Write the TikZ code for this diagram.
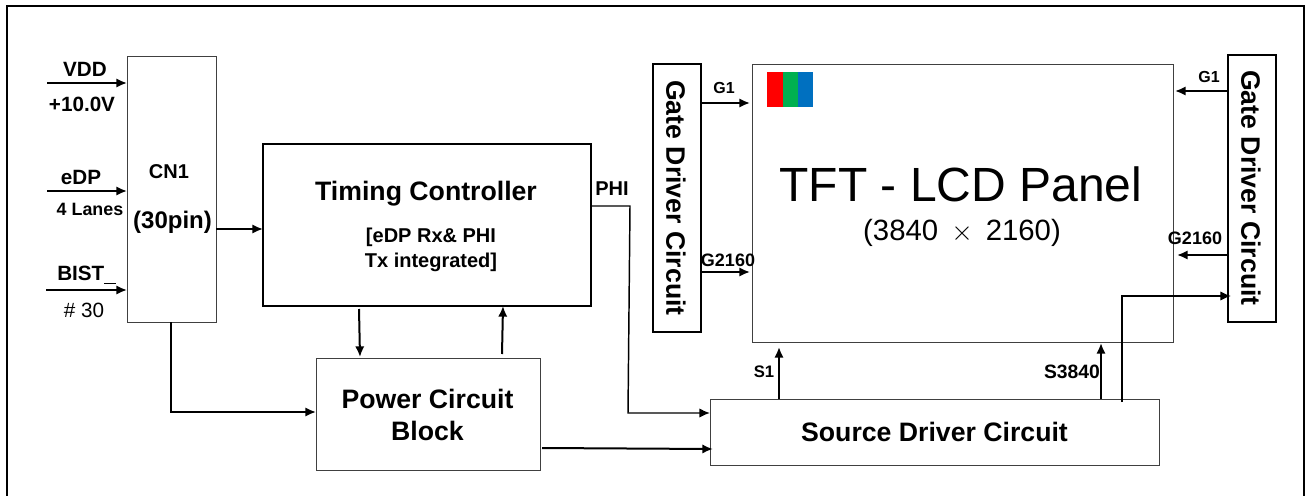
\documentclass[tikz,border=0pt]{standalone}
\usepackage{fontspec}
\setmainfont{Liberation Sans}
\usepackage{tikz}
\usetikzlibrary{arrows.meta,positioning}
\definecolor{pixgreen}{HTML}{00B050}
\definecolor{pixblue}{HTML}{0070C0}
\tikzset{
	x=0.75pt, y=-0.75pt,
	block/.style={draw=black!75, line width=0.75pt, inner sep=0pt, outer sep=0pt, anchor=north west},
	heavy/.style={draw=black, line width=1.5pt},
	sig/.style={line width=1.5pt, -{Latex[length=8pt,width=7pt]}},
	thinsig/.style={line width=1.1pt, -{Latex[length=8pt,width=7pt]}},
	txt/.style={inner sep=0pt, font=\fontsize{#1}{#1}\selectfont},
	lbl/.style={inner sep=0pt, font=\bfseries\fontsize{#1}{#1}\selectfont},
}
\begin{document}
\begin{tikzpicture}
	\useasboundingbox (0,0) rectangle (1307,496);
	\coordinate (frameBL) at (7,496);
	\coordinate (frameTL) at (7,6);
	\coordinate (frameTR) at (1304,6);
	\coordinate (frameBR) at (1304,496);
	\draw[line width=1.5pt] (frameBL) -- (frameTL) -- (frameTR) -- (frameBR);
	
	\node[block, minimum width=89*0.75pt, minimum height=266*0.75pt] (cn) at (127,56) {};
	\node[lbl=15] (cnname) at (169,172) {CN1};
	\node[lbl=18] (cnpin) at (172.5,222) {(30pin)};
	\node[block, heavy, minimum width=328*0.75pt, minimum height=162*0.75pt] (tcon) at (263,144) {};
	\node[lbl=20] (tconname) at (426,194) {Timing Controller};
	\node[lbl=15] (tconsub1) at (431,237) {[eDP Rx\& PHI};
	\node[lbl=15] (tconsub2) at (431,262) {Tx integrated]};
	\node[block, minimum width=224*0.75pt, minimum height=112*0.75pt] (power) at (316,358) {};
	\node[lbl=20] (powername1) at (427.5,399) {Power Circuit};
	\node[lbl=20] (powername2) at (427.5,431) {Block};
	\node[block, minimum width=449*0.75pt, minimum height=66*0.75pt] (source) at (710,399) {};
	\node[lbl=20] (sourcename) at (934.5,432) {Source Driver Circuit};
	\node[block, minimum width=421*0.75pt, minimum height=278*0.75pt] (panel) at (752,64) {};
	\node[txt=36] (panelname) at (961,184) {TFT - LCD Panel};
	\node[txt=22] (panelsize) at (962,233) {(3840 \,$\times$\, 2160)};
	\node[block, heavy, minimum width=48*0.75pt, minimum height=268*0.75pt] (gateL) at (653,64) {};
	\node[lbl=20, rotate=-90] (gateLname) at (676,198) {Gate Driver Circuit};
	\node[block, heavy, minimum width=48*0.75pt, minimum height=267*0.75pt] (gateR) at (1228,55) {};
	\node[lbl=20, rotate=-90] (gateRname) at (1251,188) {Gate Driver Circuit};
	
	\fill[red] (767,72) rectangle (783,107);
	\fill[pixgreen] (783,72) rectangle (798,107);
	\fill[pixblue] (798,72) rectangle (813,107);
	
	% inputs of the connector
	\coordinate (vddin) at (47,83);
	\coordinate (edpin) at (47,191);
	\coordinate (bistin) at (46,290);
	\draw[sig] (vddin) -- (vddin -| cn.west);
	\draw[sig] (edpin) -- (edpin -| cn.west);
	\draw[sig] (bistin) -- (bistin -| cn.west);
	\node[lbl=15.5] (vdd) at (85,69) {VDD};
	\node[lbl=15.5] (volt) at (82,104) {+10.0V};
	\node[lbl=15.5] (edp) at (81,177) {eDP};
	\node[lbl=13.4] (lanes) at (90,209) {4 Lanes};
	\node[lbl=15.5, anchor=west] (bist) at (57,275) {BIST\rule[-2.5pt]{9pt}{0.4pt}};
	\node[txt=15.5] (pin) at (84,310) {\# 30};
	
	\coordinate (cnout) at (216,229);
	\draw[sig] (cnout) -- (cnout -| tcon.west);
	\coordinate (cnpow) at (171,322);
	\coordinate (powin) at (316,412);
	\draw[sig] (cnpow) |- (powin);
	\coordinate (tdown) at (359,309);
	\coordinate (pdown) at (360,357);
	\draw[sig] (tdown) -- (pdown);
	\coordinate (pup) at (502,354);
	\coordinate (tup) at (503,306);
	\draw[sig] (pup) -- (tup);
	\coordinate (powout) at (542,448);
	\coordinate (srcin) at (713,449);
	\draw[sig] (powout) -- (srcin);
	\coordinate (phiout) at (591,206);
	\coordinate (phicorner) at (630,206);
	\coordinate (phibot) at (628,413);
	\coordinate (phiin) at (710,413);
	\draw[thinsig] (phiout) -- (phicorner) -- (phibot) -- (phiin);
	\node[lbl=15] (phi) at (612,189) {PHI};
	
	\coordinate (gl1) at (701,103);
	\coordinate (gl1end) at (750,103);
	\draw[sig] (gl1) -- (gl1end);
	\node[lbl=12] (gl1txt) at (724,88) {G1};
	\coordinate (gl2) at (701,272);
	\coordinate (gl2end) at (750,272);
	\draw[sig] (gl2) -- (gl2end);
	\node[lbl=13.5] (gl2txt) at (728,260) {G2160};
	\coordinate (gr1) at (1228,91);
	\coordinate (gr1end) at (1175,91);
	\draw[sig] (gr1) -- (gr1end);
	\node[lbl=12] (gr1txt) at (1209,77) {G1};
	\coordinate (gr2) at (1228,255);
	\coordinate (gr2end) at (1177,255);
	\draw[sig] (gr2) -- (gr2end);
	\node[lbl=13.5] (gr2txt) at (1195,238) {G2160};
	
	\coordinate (s1) at (779,399);
	\coordinate (s1end) at (779,347);
	\draw[sig] (s1) -- (s1end);
	\node[lbl=12.5] (s1txt) at (764,372) {S1};
	\coordinate (sn) at (1101,399);
	\coordinate (snend) at (1101,343);
	\draw[sig] (sn) -- (snend);
	\node[lbl=14.5] (sntxt) at (1072,372) {S3840};
	\coordinate (sr) at (1122,402);
	\coordinate (srend) at (1231,296);
	\draw[thinsig] (sr) |- (srend);
\end{tikzpicture}
\end{document}
